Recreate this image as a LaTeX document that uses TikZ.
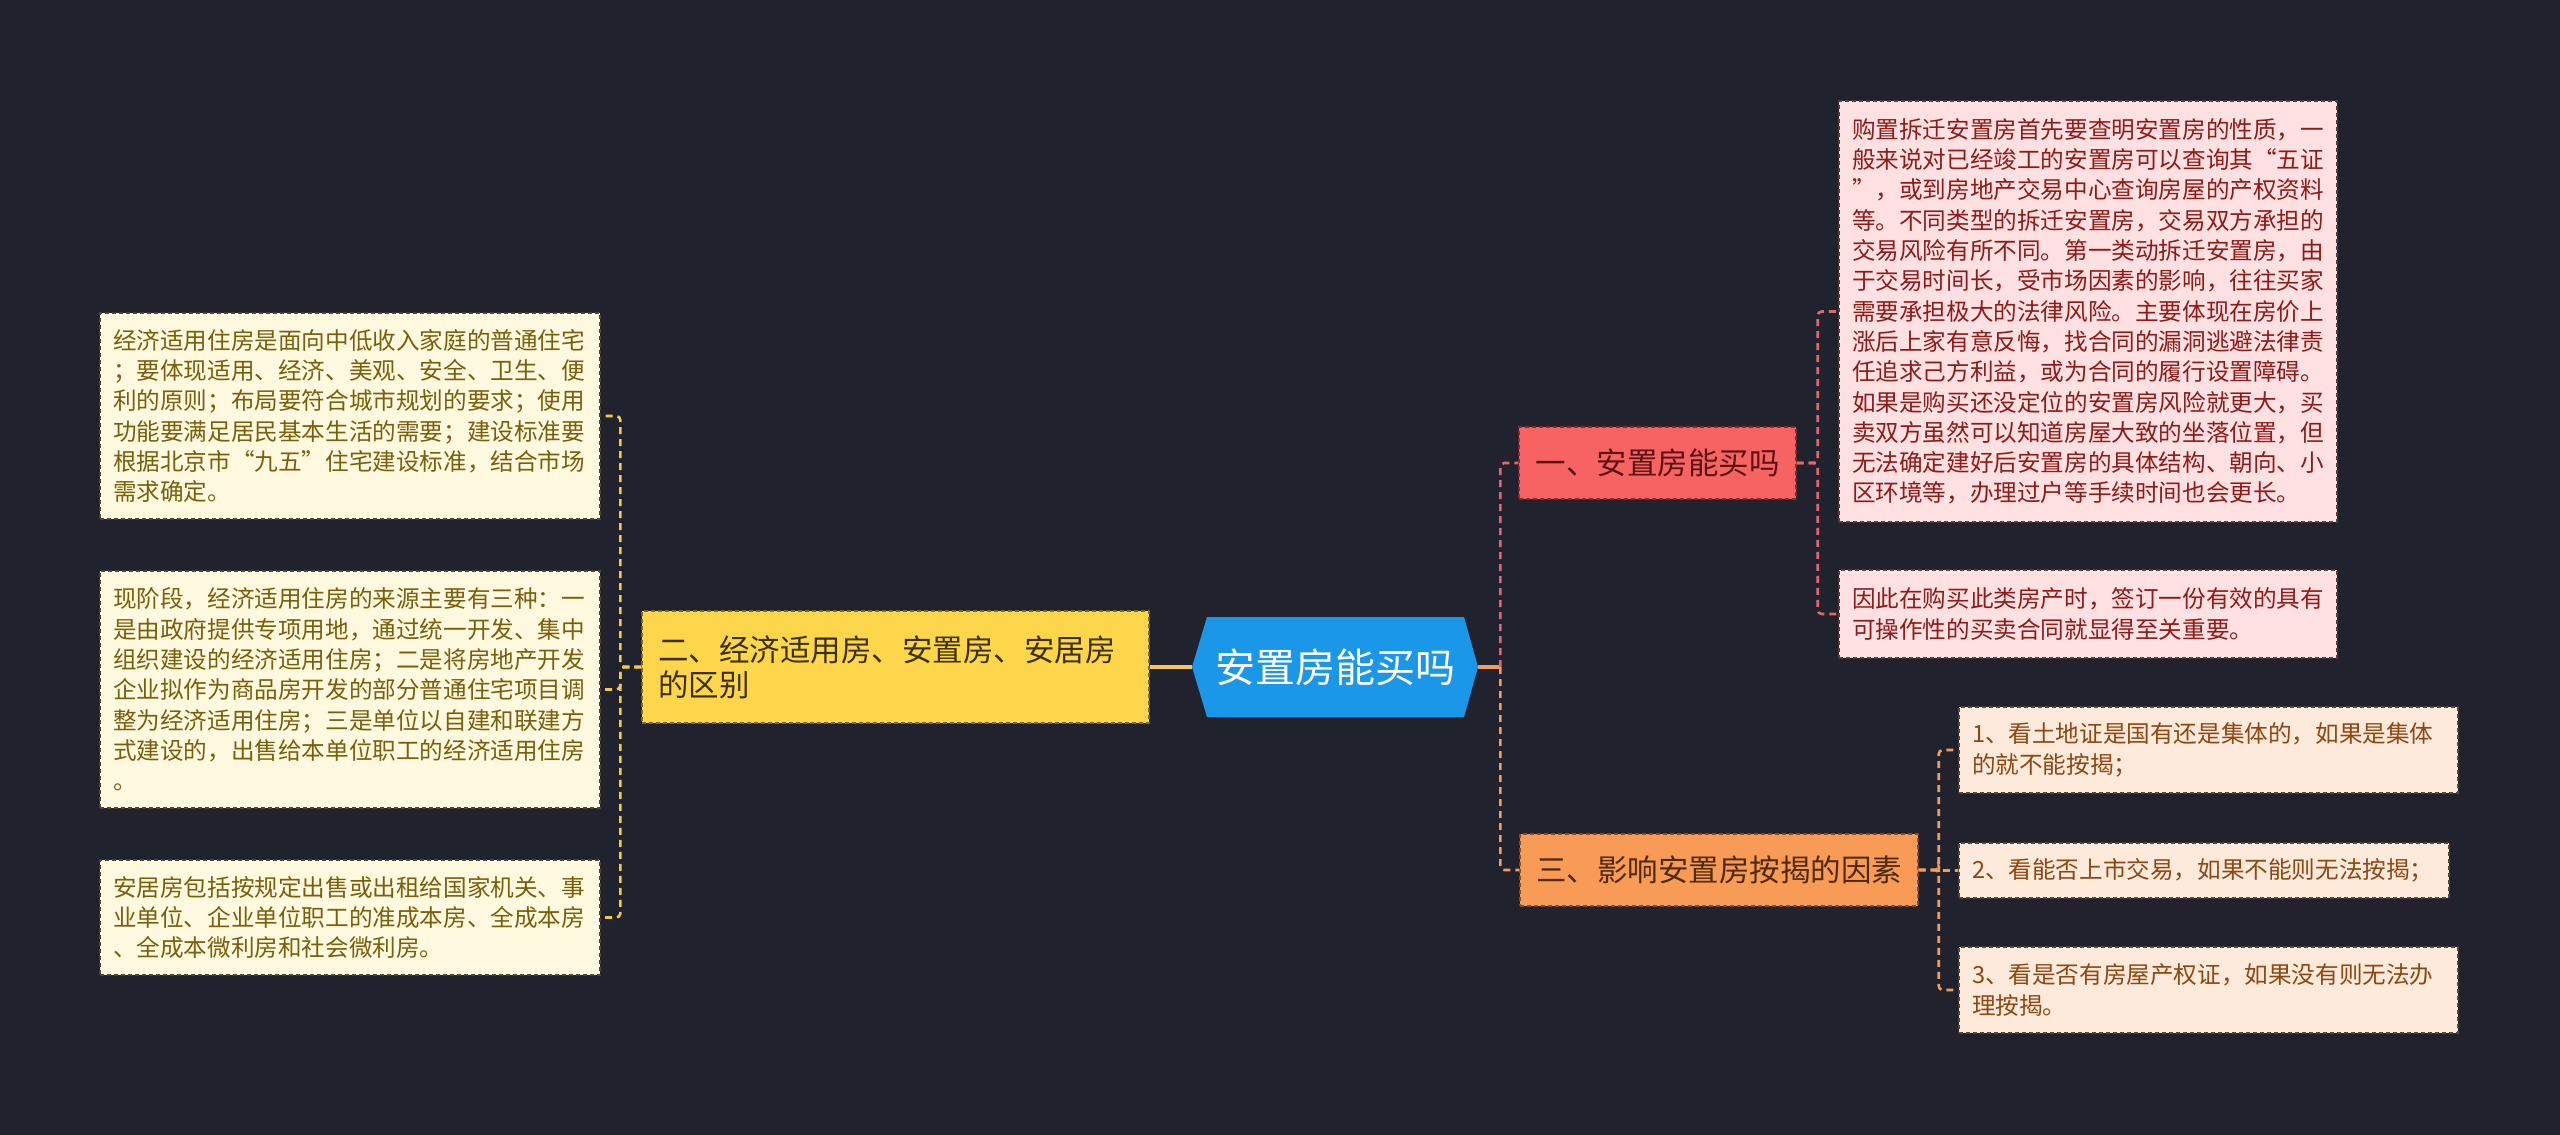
\documentclass[tikz,border=0pt]{standalone}
\usepackage{fontspec}
\setmainfont{Noto Sans CJK SC}
\definecolor{bgc}{HTML}{20232E}
\definecolor{rootfill}{HTML}{1B97EA}
\definecolor{yfill}{HTML}{FDD64B}
\definecolor{ytext}{HTML}{3A3000}
\definecolor{yborder}{HTML}{7A6A20}
\definecolor{lfill}{HTML}{FFFADF}
\definecolor{ltext}{HTML}{7A5E0C}
\definecolor{lborder}{HTML}{4A4535}
\definecolor{rfill}{HTML}{F76363}
\definecolor{rtext}{HTML}{5A1212}
\definecolor{rborder}{HTML}{8A2A2A}
\definecolor{rlfill}{HTML}{FFE1E1}
\definecolor{rltext}{HTML}{8E1A1A}
\definecolor{rlborder}{HTML}{5A3A3A}
\definecolor{ofill}{HTML}{F89B56}
\definecolor{otext}{HTML}{4F2A0E}
\definecolor{oborder}{HTML}{8A4A20}
\definecolor{olfill}{HTML}{FDEADB}
\definecolor{oltext}{HTML}{8C4712}
\definecolor{olborder}{HTML}{5A4535}
\definecolor{ycon}{HTML}{F2C94C}
\definecolor{rcon}{HTML}{E2676B}
\definecolor{ocon}{HTML}{F49A5A}
\begin{document}
\begin{tikzpicture}[x=0.5pt,y=-0.5pt,
  boxborder/.style={dash pattern=on 2pt off 1.5pt, line width=0.7pt},
  leafbox/.style={boxborder, align=left, inner xsep=6.5pt, inner ysep=0pt,
    font=\fontsize{11.8pt}{15.15pt}\selectfont, anchor=center},
  lleaf/.style={leafbox, fill=lfill, draw=lborder, text=ltext, text width=237pt},
  rleaf/.style={leafbox, fill=rlfill, draw=rlborder, text=rltext, text width=236pt},
  oleaf/.style={leafbox, fill=olfill, draw=olborder, text=oltext},
  midbox/.style={boxborder, inner sep=0pt, font=\fontsize{15.25pt}{17.5pt}\selectfont, anchor=center},
  conn/.style={line width=1.6pt},
  brk/.style={line width=1.3pt, dash pattern=on 3.5pt off 2.5pt, rounded corners=2pt},
]
\fill[bgc] (0,0) rectangle (2560,1135);
\useasboundingbox (0,0) rectangle (2560,1135);

% root hexagon
\fill[rootfill] (1192,667) -- (1207,617) -- (1464,617) -- (1478,667) -- (1464,717) -- (1207,717) -- cycle;
\node[inner sep=0pt, minimum width=143pt, minimum height=50pt, text=white,
  font=\fontsize{20pt}{24pt}\selectfont] (root) at (1335,667) {安置房能买吗};

% yellow branch
\node[midbox, fill=yfill, draw=yborder, text=ytext, align=left, text width=237.5pt,
  inner xsep=8pt, minimum height=56pt] (Y) at (895.5,667)
  {二、经济适用房、安置房、安居房\\的区别};

\node[lleaf, minimum height=103pt] (L1) at (350,416)
{经济适用住房是面向中低收入家庭的普通住宅\\
；要体现适用、经济、美观、安全、卫生、便\\
利的原则；布局要符合城市规划的要求；使用\\
功能要满足居民基本生活的需要；建设标准要\\
根据北京市“九五”住宅建设标准，结合市场\\
需求确定。};

\node[lleaf, minimum height=118.5pt] (L2) at (350,689.5)
{现阶段，经济适用住房的来源主要有三种：一\\
是由政府提供专项用地，通过统一开发、集中\\
组织建设的经济适用住房；二是将房地产开发\\
企业拟作为商品房开发的部分普通住宅项目调\\
整为经济适用住房；三是单位以自建和联建方\\
式建设的，出售给本单位职工的经济适用住房\\
。};

\node[lleaf, minimum height=57.5pt] (L3) at (350,917.5)
{安居房包括按规定出售或出租给国家机关、事\\
业单位、企业单位职工的准成本房、全成本房\\
、全成本微利房和社会微利房。};

% red branch
\node[midbox, fill=rfill, draw=rborder, text=rtext, minimum width=138.5pt,
  minimum height=36pt] (R) at (1657.5,463) {一、安置房能买吗};

\node[rleaf, minimum height=210.5pt] (RL1) at (2088,311.5)
{购置拆迁安置房首先要查明安置房的性质，一\\
般来说对已经竣工的安置房可以查询其“五证\\
”，或到房地产交易中心查询房屋的产权资料\\
等。不同类型的拆迁安置房，交易双方承担的\\
交易风险有所不同。第一类动拆迁安置房，由\\
于交易时间长，受市场因素的影响，往往买家\\
需要承担极大的法律风险。主要体现在房价上\\
涨后上家有意反悔，找合同的漏洞逃避法律责\\
任追求己方利益，或为合同的履行设置障碍。\\
如果是购买还没定位的安置房风险就更大，买\\
卖双方虽然可以知道房屋大致的坐落位置，但\\
无法确定建好后安置房的具体结构、朝向、小\\
区环境等，办理过户等手续时间也会更长。};

\node[rleaf, minimum height=44pt] (RL2) at (2088,614)
{因此在购买此类房产时，签订一份有效的具有\\
可操作性的买卖合同就显得至关重要。};

% orange branch
\node[midbox, fill=ofill, draw=oborder, text=otext, minimum width=199pt,
  minimum height=36pt] (O) at (1719,870) {三、影响安置房按揭的因素};

\node[oleaf, text width=236.5pt, minimum height=43pt] (OL1) at (2208.5,750)
{1、看土地证是国有还是集体的，如果是集体\\的就不能按揭；};
\node[oleaf, text width=232pt, minimum height=27.5pt] (OL2) at (2204,870.5)
{2、看能否上市交易，如果不能则无法按揭；};
\node[oleaf, text width=236.5pt, minimum height=43pt] (OL3) at (2208.5,990)
{3、看是否有房屋产权证，如果没有则无法办\\理按揭。};

% connectors
\draw[conn, ycon] (Y.east) -- (root.west);
\draw[conn, ocon] (root.east) -- ++(22,0);
\draw[brk, rcon] (root.east) ++(22,0) |- (R.west);
\draw[brk, ocon] (root.east) ++(22,0) |- (O.west);

\draw[brk, ycon] (Y.west) -- ++(-21,0) |- (L1.east);
\draw[brk, ycon] (Y.west) -- ++(-21,0) |- (L2.east);
\draw[brk, ycon] (Y.west) -- ++(-21,0) |- (L3.east);

\draw[brk, rcon] (R.east) -- ++(21,0) |- (RL1.west);
\draw[brk, rcon] (R.east) -- ++(21,0) |- (RL2.west);

\draw[brk, ocon] (O.east) -- ++(20,0) |- (OL1.west);
\draw[brk, ocon] (O.east) -- ++(20,0) |- (OL2.west);
\draw[brk, ocon] (O.east) -- ++(20,0) |- (OL3.west);
\end{tikzpicture}
\end{document}
